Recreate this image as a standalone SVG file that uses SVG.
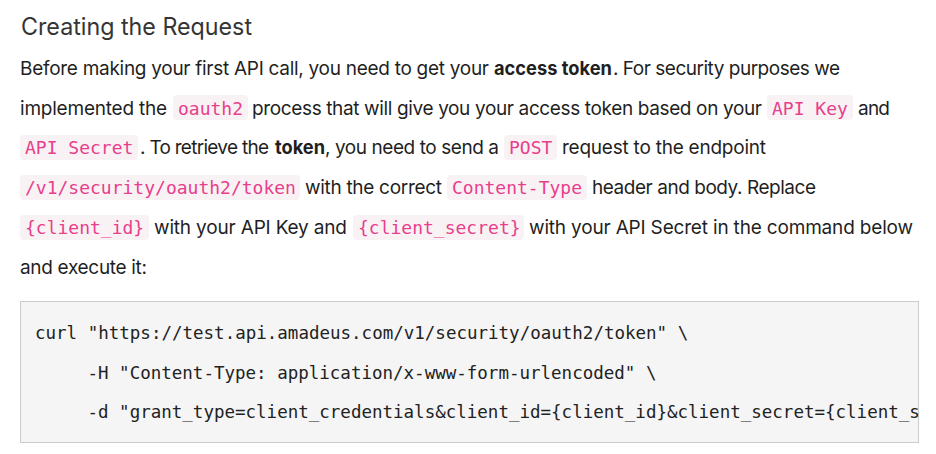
<svg xmlns="http://www.w3.org/2000/svg" width="936" height="454" viewBox="0 0 936 454">
<style>
.t{font-family:Inter,"Noto Sans","Liberation Sans",sans-serif;font-size:19px;fill:#1f1f1f}
.b{font-weight:700}
.h{font-family:Inter,"Noto Sans","Liberation Sans",sans-serif;font-size:24px;fill:#353535}
.c{font-family:"DejaVu Sans Mono","Liberation Mono",monospace;font-size:18px;fill:#e83e8c}
.chip{fill:#f9f2f4}
.m{font-family:"DejaVu Sans Mono","Liberation Mono",monospace;font-size:17.5px;fill:#222}
</style>
<rect width="936" height="454" fill="#ffffff"/>
<text id="title" class="h" x="21" y="35" textLength="231" lengthAdjust="spacingAndGlyphs">Creating the Request</text>
<g id="para">
<g id="line1">
<text class="t" x="20" y="75" textLength="469">Before making your first API call, you need to get your</text>
<text class="t b" x="494" y="75" textLength="118" lengthAdjust="spacingAndGlyphs">access token</text>
<text class="t" x="613" y="75" textLength="227">. For security purposes we</text>
</g>
<g id="line2">
<text class="t" x="20" y="114.5" textLength="147">implemented the</text>
<rect class="chip" x="173" y="95" width="75" height="25" rx="4"/>
<text class="c" x="178" y="114.5">oauth2</text>
<text class="t" x="252" y="114.5" textLength="510">process that will give you your access token based on your</text>
<rect class="chip" x="767" y="95" width="86" height="25" rx="4"/>
<text class="c" x="772" y="114.5">API Key</text>
<text class="t" x="858" y="114.5" textLength="32">and</text>
</g>
<g id="line3">
<rect class="chip" x="20" y="135" width="118" height="25" rx="4"/>
<text class="c" x="25" y="154">API Secret</text>
<text class="t" x="140" y="154" textLength="129">. To retrieve the</text>
<text class="t b" x="275" y="154" textLength="50" lengthAdjust="spacingAndGlyphs">token</text>
<text class="t" x="325" y="154" textLength="174">, you need to send a</text>
<rect class="chip" x="504" y="135" width="53" height="25" rx="4"/>
<text class="c" x="509" y="154">POST</text>
<text class="t" x="562" y="154" textLength="204">request to the endpoint</text>
</g>
<g id="line4">
<rect class="chip" x="20" y="175" width="280" height="25" rx="4"/>
<text class="c" x="25" y="194">/v1/security/oauth2/token</text>
<text class="t" x="305" y="194" textLength="137">with the correct</text>
<rect class="chip" x="447" y="175" width="140" height="25" rx="4"/>
<text class="c" x="452" y="194">Content-Type</text>
<text class="t" x="592" y="194" textLength="224">header and body. Replace</text>
</g>
<g id="line5">
<rect class="chip" x="20" y="215" width="129" height="25" rx="4"/>
<text class="c" x="25" y="234">{client_id}</text>
<text class="t" x="154" y="234" textLength="193">with your API Key and</text>
<rect class="chip" x="353" y="215" width="171" height="25" rx="4"/>
<text class="c" x="358" y="234">{client_secret}</text>
<text class="t" x="529" y="234" textLength="384">with your API Secret in the command below</text>
</g>
<text class="t" x="20" y="273.5" textLength="127">and execute it:</text>
</g>
<g id="code">
<rect x="20.5" y="301.5" width="898" height="141" fill="#f5f5f5" stroke="#cccccc" stroke-width="1"/>
<text class="m" x="35" y="339">curl "https://test.api.amadeus.com/v1/security/oauth2/token" \</text>
<text class="m" x="87.5" y="378.5">-H "Content-Type: application/x-www-form-urlencoded" \</text>
<text class="m" x="87.5" y="418">-d "grant_type=client_credentials&amp;client_id={client_id}&amp;client_secret={client_s</text>
</g>
</svg>
